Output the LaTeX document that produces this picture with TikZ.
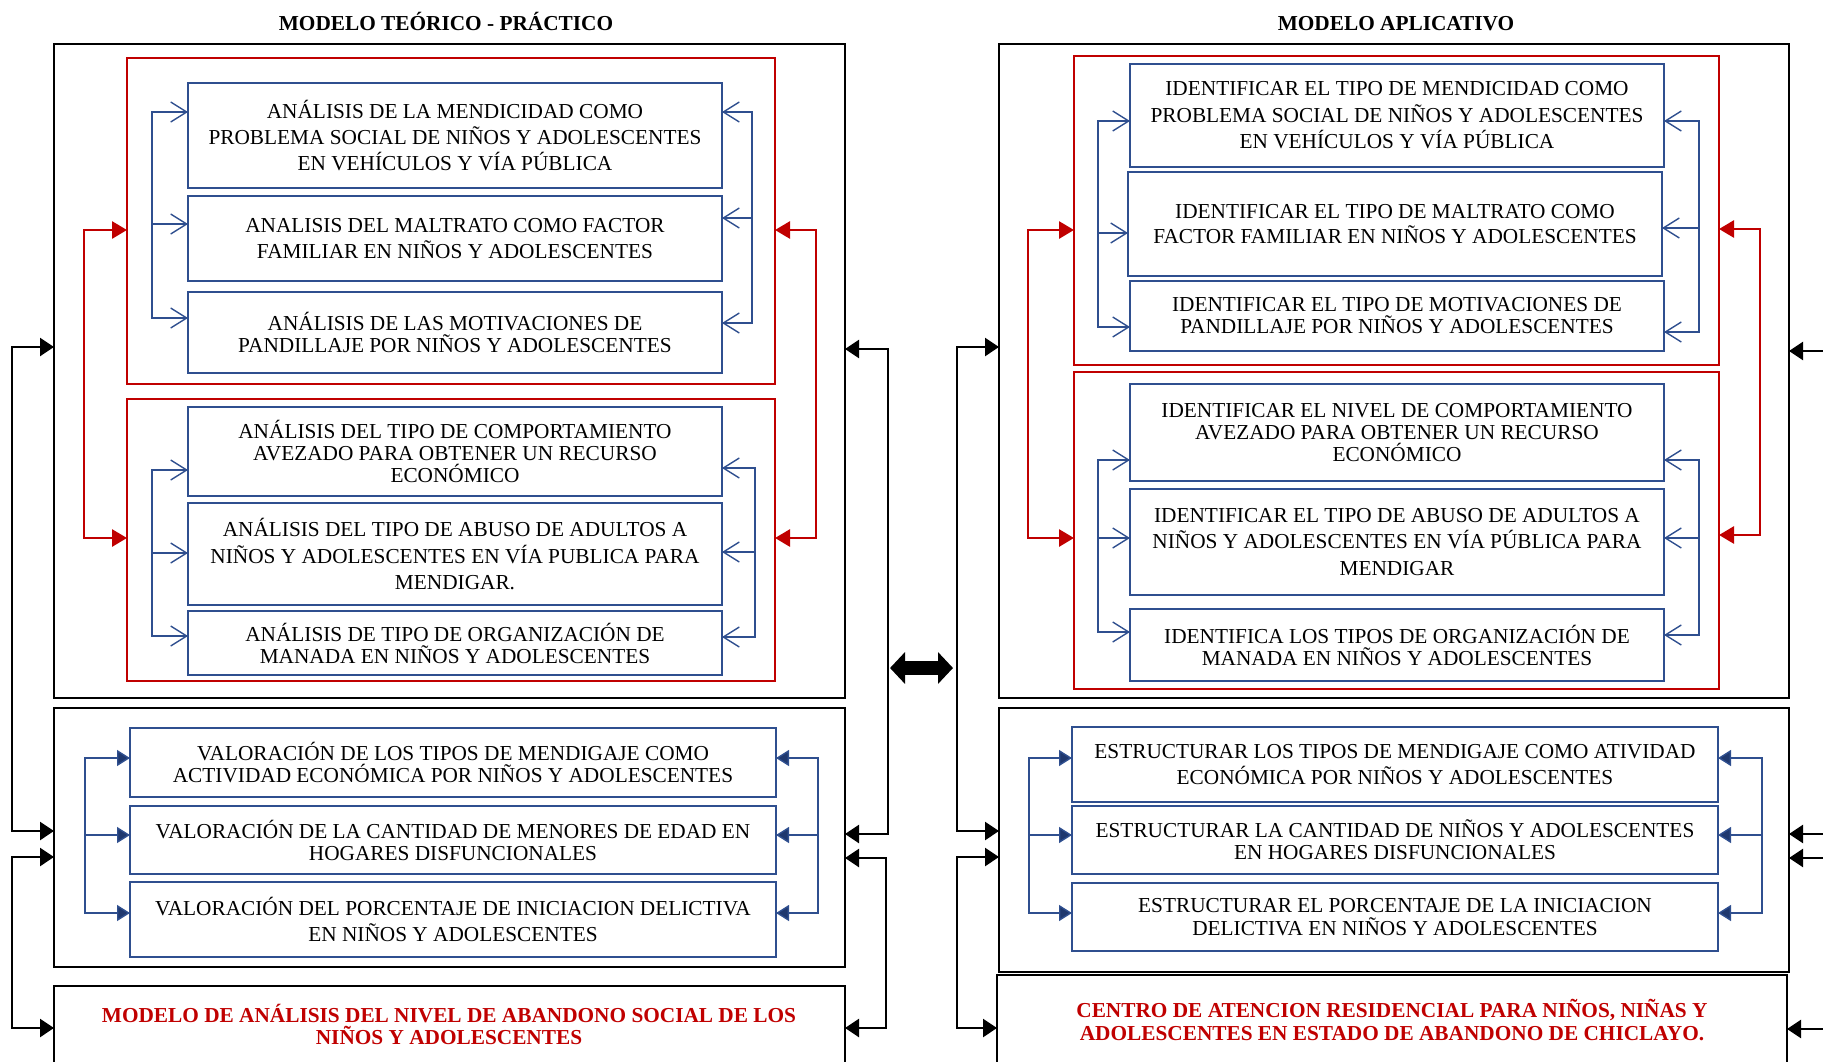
\documentclass[tikz,border=0pt]{standalone}
\usepackage{fontspec}
\setmainfont{Liberation Serif}
\usetikzlibrary{arrows.meta}
\definecolor{myblue}{RGB}{47,79,143}
\definecolor{mynavy}{RGB}{31,56,110}
\definecolor{myred}{RGB}{192,0,0}
\tikzset{
  barbtip/.tip={Straight Barb[length=16pt,width=20pt]},
  navytip/.tip={Triangle[length=13pt,width=16pt,fill=mynavy]},
  redtip/.tip={Triangle[length=15pt,width=17pt]},
  blktip/.tip={Triangle[length=14pt,width=18pt]},
  bigtip/.tip={Triangle[length=15pt,width=31pt]},
}
\begin{document}
\begin{tikzpicture}[x=1pt,y=-1pt,
  every node/.style={inner sep=0pt,outer sep=0pt},
  ttl/.style={font=\fontsize{21.3}{24}\selectfont\bfseries,anchor=base},
  obox/.style={draw=black,line width=2.7pt},
  rbox/.style={draw=myred,line width=2.8pt},
  bbox/.style={draw=myblue,line width=1.5pt,align=center,font=\fontsize{21.3}{#1}\selectfont},
  bbox/.default=22,
  redtxt/.style={align=center,text=myred,font=\fontsize{21.3}{#1}\selectfont\bfseries},
  redtxt/.default=21.5,
  bl/.style={draw=myblue,line width=1.4pt},
  rl/.style={draw=myred,line width=2.8pt},
  kl/.style={draw=black,line width=2.5pt},
]
\useasboundingbox (0,0) rectangle (1823,1061);
\clip (0,0) rectangle (1823,1061);

% ---------- titles
\node[ttl] (T1) at (446,30) {MODELO TEÓRICO - PRÁCTICO};
\node[ttl] (T2) at (1396,30) {MODELO APLICATIVO};

% ---------- left column
\node[obox,minimum width=791pt,minimum height=654pt] (A1) at (449.5,371) {};
\node[rbox,minimum width=648pt,minimum height=326pt] (RA1) at (451,221) {};
\node[rbox,minimum width=648pt,minimum height=282pt] (RA2) at (451,540) {};
\node[bbox=26,minimum width=534pt,minimum height=105pt] (B1) at (455,135.5)
  {ANÁLISIS DE LA MENDICIDAD COMO\\PROBLEMA SOCIAL DE NIÑOS Y ADOLESCENTES\\EN VEHÍCULOS Y VÍA PÚBLICA};
\node[bbox=26,minimum width=534pt,minimum height=85pt] (B2) at (455,238.5)
  {ANALISIS DEL MALTRATO COMO FACTOR\\FAMILIAR EN NIÑOS Y ADOLESCENTES};
\node[bbox=22,minimum width=534pt,minimum height=81pt] (B3) at (455,332.5)
  {ANÁLISIS DE LAS MOTIVACIONES DE\\PANDILLAJE POR NIÑOS Y ADOLESCENTES};
\node[bbox=22,minimum width=534pt,minimum height=89pt] (B4) at (455,451.5)
  {ANÁLISIS DEL TIPO DE COMPORTAMIENTO\\AVEZADO PARA OBTENER UN RECURSO\\ECONÓMICO};
\node[bbox=26.5,minimum width=534pt,minimum height=102pt] (B5) at (455,554)
  {ANÁLISIS DEL TIPO DE ABUSO DE ADULTOS A\\NIÑOS Y ADOLESCENTES EN VÍA PUBLICA PARA\\MENDIGAR.};
\node[bbox=22,minimum width=534pt,minimum height=64pt] (B6) at (455,643)
  {ANÁLISIS DE TIPO DE ORGANIZACIÓN DE\\MANADA EN NIÑOS Y ADOLESCENTES};

\node[obox,minimum width=791pt,minimum height=259pt] (A2) at (449.5,837.5) {};
\node[bbox=21.5,minimum width=646pt,minimum height=69pt] (V1) at (453,762.5)
  {VALORACIÓN DE LOS TIPOS DE MENDIGAJE COMO\\ACTIVIDAD ECONÓMICA POR NIÑOS Y ADOLESCENTES};
\node[bbox=22,minimum width=646pt,minimum height=68pt] (V2) at (453,840)
  {VALORACIÓN DE LA CANTIDAD DE MENORES DE EDAD EN\\HOGARES DISFUNCIONALES};
\node[bbox=26,minimum width=646pt,minimum height=75pt] (V3) at (453,919.5)
  {VALORACIÓN DEL PORCENTAJE DE INICIACION DELICTIVA\\EN NIÑOS Y ADOLESCENTES};

\node[obox,minimum width=791pt,minimum height=114pt] (A3) at (449.5,1043) {};
\node[redtxt=21.5] (A3t) at (449,1024.5)
  {MODELO DE ANÁLISIS DEL NIVEL DE ABANDONO SOCIAL DE LOS\\NIÑOS Y ADOLESCENTES};

% ---------- right column
\node[obox,minimum width=790pt,minimum height=654pt] (C1) at (1394,371) {};
\node[rbox,minimum width=645pt,minimum height=309pt] (RC1) at (1396.5,210.5) {};
\node[rbox,minimum width=645pt,minimum height=317pt] (RC2) at (1396.5,530.5) {};
\node[bbox=26.5,minimum width=534pt,minimum height=103pt] (R1) at (1397,115.5)
  {IDENTIFICAR EL TIPO DE MENDICIDAD COMO\\PROBLEMA SOCIAL DE NIÑOS Y ADOLESCENTES\\EN VEHÍCULOS Y VÍA PÚBLICA};
\node[bbox=25.7,minimum width=534pt,minimum height=104pt] (R2) at (1395,224)
  {IDENTIFICAR EL TIPO DE MALTRATO COMO\\FACTOR FAMILIAR EN NIÑOS Y ADOLESCENTES};
\node[bbox=22,minimum width=534pt,minimum height=70pt] (R3) at (1397,316)
  {IDENTIFICAR EL TIPO DE MOTIVACIONES DE\\PANDILLAJE POR NIÑOS Y ADOLESCENTES};
\node[bbox=22,minimum width=534pt,minimum height=97pt] (R4) at (1397,432.5)
  {IDENTIFICAR EL NIVEL DE COMPORTAMIENTO\\AVEZADO PARA OBTENER UN RECURSO\\ECONÓMICO};
\node[bbox=26.5,minimum width=534pt,minimum height=106pt] (R5) at (1397,542)
  {IDENTIFICAR EL TIPO DE ABUSO DE ADULTOS A\\NIÑOS Y ADOLESCENTES EN VÍA PÚBLICA PARA\\MENDIGAR};
\node[bbox=22,minimum width=534pt,minimum height=72pt] (R6) at (1397,645)
  {IDENTIFICA LOS TIPOS DE ORGANIZACIÓN DE\\MANADA EN NIÑOS Y ADOLESCENTES};

\node[obox,minimum width=790pt,minimum height=264pt] (C2) at (1394,840) {};
\node[bbox=25.7,minimum width=646pt,minimum height=75pt] (S1) at (1395,764.5)
  {ESTRUCTURAR LOS TIPOS DE MENDIGAJE COMO ATIVIDAD\\ECONÓMICA POR NIÑOS Y ADOLESCENTES};
\node[bbox=22,minimum width=646pt,minimum height=68pt] (S2) at (1395,840)
  {ESTRUCTURAR LA CANTIDAD DE NIÑOS Y ADOLESCENTES\\EN HOGARES DISFUNCIONALES};
\node[bbox=23,minimum width=646pt,minimum height=68pt] (S3) at (1395,917)
  {ESTRUCTURAR EL PORCENTAJE DE LA INICIACION\\DELICTIVA EN NIÑOS Y ADOLESCENTES};

\node[obox,minimum width=790pt,minimum height=125pt] (C3) at (1392,1037.5) {};
\node[redtxt=22.5] (C3t) at (1392,1020)
  {CENTRO DE ATENCION RESIDENCIAL PARA NIÑOS, NIÑAS Y\\ADOLESCENTES EN ESTADO DE ABANDONO DE CHICLAYO.};

% ---------- blue brackets, left column
\coordinate (la1) at (152,112); \coordinate (la2) at (152,224); \coordinate (la3) at (152,318);
\draw[bl,barbtip-barbtip] (la1 -| B1.west) -- (la1) -- (la3) -- (la3 -| B3.west);
\draw[bl,-barbtip] (la2) -- (la2 -| B2.west);
\coordinate (ra1) at (752,112); \coordinate (ra2) at (752,218); \coordinate (ra3) at (752,323);
\draw[bl,barbtip-barbtip] (ra1 -| B1.east) -- (ra1) -- (ra3) -- (ra3 -| B3.east);
\draw[bl,-barbtip] (ra2) -- (ra2 -| B2.east);
\coordinate (lb1) at (152,470); \coordinate (lb2) at (152,553); \coordinate (lb3) at (152,636);
\draw[bl,barbtip-barbtip] (lb1 -| B4.west) -- (lb1) -- (lb3) -- (lb3 -| B6.west);
\draw[bl,-barbtip] (lb2) -- (lb2 -| B5.west);
\coordinate (rb1) at (755,468); \coordinate (rb2) at (755,552); \coordinate (rb3) at (755,637);
\draw[bl,barbtip-barbtip] (rb1 -| B4.east) -- (rb1) -- (rb3) -- (rb3 -| B6.east);
\draw[bl,-barbtip] (rb2) -- (rb2 -| B5.east);
\coordinate (lv1) at (85,758); \coordinate (lv2) at (85,835); \coordinate (lv3) at (85,913);
\draw[bl,navytip-navytip] (lv1 -| V1.west) -- (lv1) -- (lv3) -- (lv3 -| V3.west);
\draw[bl,-navytip] (lv2) -- (lv2 -| V2.west);
\coordinate (rv1) at (818,758); \coordinate (rv2) at (818,835); \coordinate (rv3) at (818,913);
\draw[bl,navytip-navytip] (rv1 -| V1.east) -- (rv1) -- (rv3) -- (rv3 -| V3.east);
\draw[bl,-navytip] (rv2) -- (rv2 -| V2.east);

% ---------- blue brackets, right column
\coordinate (lc1) at (1098,121); \coordinate (lc2) at (1098,233); \coordinate (lc3) at (1098,327);
\draw[bl,barbtip-barbtip] (lc1 -| R1.west) -- (lc1) -- (lc3) -- (lc3 -| R3.west);
\draw[bl,-barbtip] (lc2) -- (lc2 -| R2.west);
\coordinate (rc1) at (1699,121); \coordinate (rc2) at (1699,228); \coordinate (rc3) at (1699,332);
\draw[bl,barbtip-barbtip] (rc1 -| R1.east) -- (rc1) -- (rc3) -- (rc3 -| R3.east);
\draw[bl,-barbtip] (rc2) -- (rc2 -| R2.east);
\coordinate (ld1) at (1098,460); \coordinate (ld2) at (1098,538); \coordinate (ld3) at (1098,632);
\draw[bl,barbtip-barbtip] (ld1 -| R4.west) -- (ld1) -- (ld3) -- (ld3 -| R6.west);
\draw[bl,-barbtip] (ld2) -- (ld2 -| R5.west);
\coordinate (rd1) at (1699,460); \coordinate (rd2) at (1699,538); \coordinate (rd3) at (1699,635);
\draw[bl,barbtip-barbtip] (rd1 -| R4.east) -- (rd1) -- (rd3) -- (rd3 -| R6.east);
\draw[bl,-barbtip] (rd2) -- (rd2 -| R5.east);
\coordinate (ls1) at (1029,758); \coordinate (ls2) at (1029,835); \coordinate (ls3) at (1029,913);
\draw[bl,navytip-navytip] (ls1 -| S1.west) -- (ls1) -- (ls3) -- (ls3 -| S3.west);
\draw[bl,-navytip] (ls2) -- (ls2 -| S2.west);
\coordinate (rs1) at (1762,758); \coordinate (rs2) at (1762,835); \coordinate (rs3) at (1762,913);
\draw[bl,navytip-navytip] (rs1 -| S1.east) -- (rs1) -- (rs3) -- (rs3 -| S3.east);
\draw[bl,-navytip] (rs2) -- (rs2 -| S2.east);

% ---------- red connectors
\coordinate (lr1) at (84,230); \coordinate (lr2) at (84,538);
\draw[rl,redtip-redtip] (lr1 -| RA1.west) -- (lr1) -- (lr2) -- (lr2 -| RA2.west);
\coordinate (rr1) at (816,230); \coordinate (rr2) at (816,538);
\draw[rl,redtip-redtip] (rr1 -| RA1.east) -- (rr1) -- (rr2) -- (rr2 -| RA2.east);
\coordinate (lr3) at (1028,230); \coordinate (lr4) at (1028,538);
\draw[rl,redtip-redtip] (lr3 -| RC1.west) -- (lr3) -- (lr4) -- (lr4 -| RC2.west);
\coordinate (rr3) at (1760,229); \coordinate (rr4) at (1760,535);
\draw[rl,redtip-redtip] (rr3 -| RC1.east) -- (rr3) -- (rr4) -- (rr4 -| RC2.east);

% ---------- black connectors
\coordinate (k1) at (12,347); \coordinate (k2) at (12,831);
\draw[kl,blktip-blktip] (k1 -| A1.west) -- (k1) -- (k2) -- (k2 -| A2.west);
\coordinate (k3) at (12,857); \coordinate (k4) at (12,1028);
\draw[kl,blktip-blktip] (k3 -| A2.west) -- (k3) -- (k4) -- (k4 -| A3.west);
\coordinate (k5) at (888,349); \coordinate (k6) at (888,834);
\draw[kl,blktip-blktip] (k5 -| A1.east) -- (k5) -- (k6) -- (k6 -| A2.east);
\coordinate (k7) at (886,858); \coordinate (k8) at (886,1028);
\draw[kl,blktip-blktip] (k7 -| A2.east) -- (k7) -- (k8) -- (k8 -| A3.east);
\coordinate (k9) at (957,347); \coordinate (k10) at (957,831);
\draw[kl,blktip-blktip] (k9 -| C1.west) -- (k9) -- (k10) -- (k10 -| C2.west);
\coordinate (k11) at (957,857); \coordinate (k12) at (957,1028);
\draw[kl,blktip-blktip] (k11 -| C2.west) -- (k11) -- (k12) -- (k12 -| C3.west);
\coordinate (e1) at (1830,351); \coordinate (e2) at (1830,834);
\coordinate (e3) at (1830,858); \coordinate (e4) at (1830,1029);
\draw[kl,-blktip] (e1) -- (e1 -| C1.east);
\draw[kl,-blktip] (e2) -- (e2 -| C2.east);
\draw[kl,-blktip] (e3) -- (e3 -| C2.east);
\draw[kl,-blktip] (e4) -- (e4 -| C3.east);

% ---------- middle double arrow
\coordinate (m1) at (890,668); \coordinate (m2) at (953,668);
\draw[line width=14pt,bigtip-bigtip] (m1) -- (m2);
\end{tikzpicture}
\end{document}
